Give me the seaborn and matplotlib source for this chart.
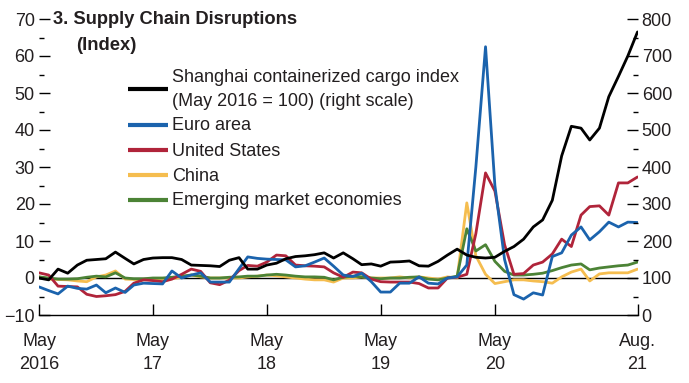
import matplotlib
matplotlib.use("Agg")
import matplotlib.pyplot as plt
from matplotlib import font_manager
from matplotlib.lines import Line2D
from matplotlib.ticker import MultipleLocator
import seaborn as sns
import pandas as pd
import numpy as np

# ---------------- data ----------------
months = pd.date_range("2016-05-01", periods=64, freq="MS")

shanghai = [100, 95, 124, 113, 135, 148, 150, 152, 170, 153,
            138, 150, 154, 155, 155, 150, 135, 134, 133, 131,
            148, 155, 124, 124, 135, 140, 152, 158, 160, 163,
            168, 154, 168, 152, 136, 138, 132, 143, 144, 146,
            133, 132, 145, 162, 178, 162, 156, 154, 156, 172,
            185, 205, 238, 257, 310, 430, 510, 505, 473, 505,
            590, 645, 700, 765]

euro = [-2.4, -3.4, -4.3, -2.2, -2.8, -3.0, -1.9, -4.0, -2.7, -3.9,
        -1.9, -1.4, -1.5, -1.6, 1.9, 0.0, 0.8, 1.4, -1.1, -1.1,
        -1.1, 2.5, 5.7, 5.3, 5.1, 5.0, 4.9, 3.0, 3.3, 4.3,
        5.4, 3.2, 0.8, 0.4, 1.3, -1.0, -3.8, -3.8, -1.4, -1.4,
        0.3, -1.4, -1.6, 0.0, 0.3, 3.5, 30.0, 62.5, 25.0, 5.0,
        -4.5, -5.7, -4.0, -4.6, 5.8, 6.8, 11.6, 13.8, 10.3, 12.5,
        15.1, 13.8, 15.1, 15.0]

us = [1.4, 0.8, -2.2, -2.3, -2.4, -4.4, -5.0, -4.8, -4.5, -3.6,
      -1.4, -0.5, -0.7, -1.0, -0.3, 1.0, 2.4, 1.8, -1.3, -1.8,
      -0.6, 2.0, 3.4, 3.2, 4.3, 6.2, 6.0, 3.5, 3.3, 3.2,
      3.0, 1.4, 0.2, 1.6, 1.4, -0.3, -1.0, -1.1, -1.1, -1.1,
      -1.5, -2.7, -2.7, 0.0, 0.2, 1.0, 12.0, 28.4, 23.5, 9.0,
      1.0, 1.2, 3.5, 4.3, 6.5, 10.5, 8.5, 17.0, 19.3, 19.5,
      17.0, 25.7, 25.7, 27.3]

china = [0.3, -0.3, -0.4, -0.5, -0.8, -1.0, 0.3, 0.8, 1.9, -0.3,
         -0.4, -0.5, -0.3, -0.3, -0.2, 0.2, 0.8, 0.3, 0.0, 0.0,
         0.0, 0.0, 0.3, 0.5, 0.8, 0.6, 0.3, 0.0, -0.3, -0.5,
         -0.5, -1.1, 0.0, 0.0, 0.3, 0.0, 0.0, 0.0, 0.3, 0.0,
         0.3, 0.0, -0.3, 0.3, 0.0, 20.3, 6.0, 1.0, -1.5, -1.0,
         -0.5, -0.5, -0.8, -1.0, -1.4, 0.3, 1.6, 2.4, -0.8, 1.1,
         1.4, 1.4, 1.4, 2.4]

emerging = [0.3, 0.0, -0.3, -0.3, -0.2, 0.2, 0.5, 0.3, 1.4, 0.0,
            -0.2, -0.2, 0.0, 0.0, 0.2, 0.5, 0.8, 0.5, 0.0, 0.0,
            0.2, 0.3, 0.5, 0.5, 0.8, 1.0, 0.8, 0.5, 0.3, 0.3,
            0.2, -0.5, 0.2, 0.5, 0.3, 0.0, -0.2, 0.0, 0.0, 0.2,
            0.3, -0.3, -0.5, 0.0, 0.5, 13.3, 7.3, 9.0, 4.5, 1.8,
            0.8, 0.8, 1.0, 1.3, 2.0, 2.8, 3.5, 3.8, 2.2, 2.7,
            3.0, 3.3, 3.5, 4.3]

labels = ["Shanghai containerized cargo index\n(May 2016 = 100) (right scale)",
          "Euro area", "United States", "China", "Emerging market economies"]
colors = ["#000000", "#1b63ad", "#b0243a", "#f5bd4f", "#4c8336"]

x_tick_dates = ["2016-05-01", "2017-05-01", "2018-05-01", "2019-05-01",
                "2020-05-01", "2021-08-01"]
x_tick_labels = ["May\n2016", "May\n17", "May\n18", "May\n19", "May\n20", "Aug.\n21"]

# ---------------- style ----------------
sns.set_theme(style="white")
names = {f.name for f in font_manager.fontManager.ttflist}
fam = "Liberation Sans Narrow" if "Liberation Sans Narrow" in names else "Liberation Sans"
plt.rcParams["font.family"] = [fam, "DejaVu Sans"]
txt_color = "#231f20"

W, H = 689, 383
fig = plt.figure(figsize=(6.89, 3.83), dpi=100)
ax = fig.add_axes([39 / W, 1 - 315 / H, (637.5 - 39) / W, (315 - 19) / H])
ax2 = ax.twinx()

left_df = pd.DataFrame({
    "date": np.tile(months, 4),
    "value": china + emerging + us + euro,
    "series": np.repeat([labels[3], labels[4], labels[2], labels[1]], len(months)),
})

ax.axhline(0, color="black", lw=1.0, zorder=1)
pal = {labels[1]: colors[1], labels[2]: colors[2], labels[3]: colors[3], labels[4]: colors[4]}
sns.lineplot(data=left_df, x="date", y="value", hue="series", palette=pal,
             hue_order=[labels[3], labels[4], labels[2], labels[1]],
             lw=2.0, ax=ax, legend=False, zorder=3)
sns.lineplot(x=months, y=shanghai, color=colors[0], lw=2.0, ax=ax2, legend=False)

xmin, xmax = pd.Timestamp("2016-05-01"), pd.Timestamp("2021-08-01")
ax.set_xlim(xmin, xmax)
ax.set_ylim(-10, 70)
ax2.set_ylim(0, 800)
for a in (ax, ax2):
    a.set_xlabel("")
    a.set_ylabel("")
    a.grid(False)
    for s in ("left", "right", "top", "bottom"):
        a.spines[s].set_visible(False)
ax.spines["bottom"].set_visible(True)
ax.spines["bottom"].set_color("black")
ax.spines["bottom"].set_linewidth(1.0)

ax.set_xticks(pd.to_datetime(x_tick_dates))
ax.set_xticklabels(x_tick_labels, fontsize=13, color=txt_color, linespacing=1.45)
ax.tick_params(axis="x", direction="in", length=8, width=1, color="black", pad=13,
               bottom=True)

ax.yaxis.set_major_locator(MultipleLocator(10))
ax.yaxis.set_minor_locator(MultipleLocator(5))
ax.tick_params(axis="y", which="major", direction="in", length=8, width=1,
               color="black", pad=3, labelsize=13, labelcolor=txt_color, left=True)
ax.tick_params(axis="y", which="minor", direction="in", length=3.5, width=1,
               color="black", left=True)

ax2.yaxis.set_major_locator(MultipleLocator(100))
ax2.yaxis.set_minor_locator(MultipleLocator(50))
ax2.tick_params(axis="y", which="major", direction="in", length=8, width=1,
                color="black", pad=3, labelsize=13, labelcolor=txt_color, right=True)
ax2.tick_params(axis="y", which="minor", direction="in", length=3.5, width=1,
                color="black", right=True)

# title
fig.text(53 / W, 1 - 19 / H, "3. Supply Chain Disruptions", fontsize=13.2,
         fontweight="bold", color=txt_color, va="center", ha="left")
fig.text(76 / W, 1 - 45 / H, "(Index)", fontsize=13.2,
         fontweight="bold", color=txt_color, va="center", ha="left")

# legend (drawn manually to match the reference spacing)
handle_y = [89, 125, 150, 175, 200]
text_rows = [[77, 102], [126], [151], [176], [201]]
for lab, col, hy, rows in zip(labels, colors, handle_y, text_rows):
    fig.add_artist(Line2D([128 / W, 168 / W], [1 - hy / H, 1 - hy / H],
                          transform=fig.transFigure, color=col, lw=3,
                          solid_capstyle="butt"))
    for part, ty in zip(lab.split("\n"), rows):
        fig.text(172 / W, 1 - ty / H, part, fontsize=13, color=txt_color,
                 va="center", ha="left")

fig.savefig("out.png", dpi=100)
